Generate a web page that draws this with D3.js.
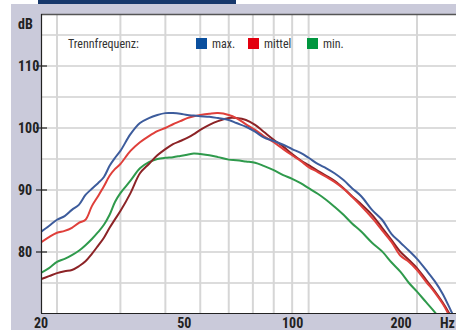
<!DOCTYPE html>
<html>
<head>
<meta charset="utf-8">
<script src="https://cdn.jsdelivr.net/npm/d3@7"></script>
<style>
  html, body { margin: 0; padding: 0; background: #fff; }
  svg { display: block; }
</style>
</head>
<body>
<div id="chart"></div>
<script>
// frequencies (Hz) shared by all curves
const freqs = [18, 19, 20, 21, 22, 23, 24, 25, 26, 27, 28, 29, 30, 32, 34, 36, 38, 40, 42, 44, 46, 48, 50,
  53, 56, 60, 63, 67, 71, 75, 80, 85, 90, 95, 100, 106, 112, 118, 125, 132, 140, 150, 160, 170, 180,
  190, 200, 212, 224, 236, 250, 260];

// dB values
const maxDb = [83.2, 84.2, 85.2, 85.8, 86.8, 87.6, 89.2, 90.2, 91.1, 92.1, 93.9, 95.2, 96.3, 99.0, 100.8,
  101.6, 102.1, 102.4, 102.4, 102.3, 102.1, 102.0, 101.9, 101.8, 101.6, 101.3, 100.8, 100.2, 99.4, 98.5,
  97.9, 97.3, 96.6, 96.0, 95.2, 94.2, 93.5, 92.7, 91.6, 90.3, 89.0, 86.8, 85.2, 82.9, 81.5, 80.2, 78.9,
  77.1, 75.3, 73.2, 70.2, 68.2];
const mittelDb = [81.5, 82.4, 83.1, 83.4, 83.9, 84.7, 85.2, 87.4, 89.0, 90.6, 92.3, 93.4, 94.2, 96.3, 97.7,
  98.7, 99.5, 100.0, 100.6, 101.1, 101.6, 101.9, 102.1, 102.3, 102.4, 102.1, 101.6, 100.6, 99.7, 98.7,
  97.7, 96.6, 95.6, 94.7, 93.7, 92.9, 92.1, 91.3, 90.2, 88.9, 87.4, 85.5, 83.5, 81.6, 79.4, 78.4, 77.1,
  75.2, 73.5, 71.6, 69.0, 67.5];
const darkDb = [75.6, 76.1, 76.6, 76.9, 77.1, 77.7, 78.5, 79.7, 81.0, 82.3, 83.9, 85.3, 86.6, 89.5, 92.7,
  94.2, 95.6, 96.6, 97.4, 97.9, 98.4, 99.0, 99.7, 100.5, 101.1, 101.6, 101.6, 101.3, 100.5, 99.4, 98.1,
  97.0, 95.8, 94.8, 94.0, 93.1, 92.3, 91.5, 90.3, 89.0, 87.7, 86.0, 83.9, 81.9, 80.0, 78.7, 77.4, 75.5,
  73.7, 71.8, 69.4, 67.8];
const minDb = [76.6, 77.4, 78.4, 78.9, 79.5, 80.2, 81.1, 82.1, 83.2, 84.4, 86.0, 88.1, 89.5, 91.5, 93.5,
  94.5, 95.0, 95.2, 95.3, 95.5, 95.7, 95.9, 95.8, 95.6, 95.3, 94.9, 94.8, 94.6, 94.4, 93.9, 93.2, 92.4,
  91.8, 91.1, 90.3, 89.4, 88.4, 87.3, 86.0, 84.6, 83.3, 81.5, 80.1, 78.3, 76.8, 75.0, 73.6, 71.9, 70.3,
  68.6, 66.5, 65.0];

const gridFreqs = [20, 30, 40, 50, 60, 70, 80, 90, 100, 200];
const xTickLabels = [20, 50, 100, 200];
const yTicks = [80, 90, 100, 110];
const yGrid = [75, 80, 85, 90, 95, 100, 105, 110, 115];

const legendItems = [
  { label: "max.", color: "#0a4f9e" },
  { label: "mittel", color: "#e3000f" },
  { label: "min.", color: "#00963f" }
];

const series = [
  { values: minDb, color: "#2f9a4c" },
  { values: darkDb, color: "#8c2326" },
  { values: mittelDb, color: "#df3f3a" },
  { values: maxDb, color: "#3d5c9c" }
];

const W = 456, H = 330;
const pLeft = 41, pRight = 456, pTop = 14, pBottom = 313;

const svg = d3.select("#chart").append("svg").attr("width", W).attr("height", H);

// frame
svg.append("rect").attr("x", 11).attr("y", 4).attr("width", W - 11).attr("height", H - 4).attr("fill", "#cacada");
svg.append("rect").attr("x", 38).attr("y", 0).attr("width", 198).attr("height", 4).attr("fill", "#17386b");
svg.append("rect").attr("x", pLeft).attr("y", pTop).attr("width", pRight - pLeft).attr("height", pBottom - pTop).attr("fill", "#fff");

const x = d3.scaleLog().domain([20, 200]).range([57, 417]);
const y = d3.scaleLinear().domain([80, 110]).range([252, 66]);

// grid
const grid = svg.append("g");
grid.selectAll(".hg").data(yGrid).join("line")
  .attr("x1", pLeft).attr("x2", pRight)
  .attr("y1", d => y(d)).attr("y2", d => y(d))
  .attr("stroke", "#dcdcdc").attr("stroke-width", 2);
grid.selectAll(".vg").data(gridFreqs).join("line")
  .attr("x1", d => x(d)).attr("x2", d => x(d))
  .attr("y1", pTop).attr("y2", pBottom)
  .attr("stroke", "#d6d6d6").attr("stroke-width", 2);

// curves
svg.append("clipPath").attr("id", "clip")
  .append("rect").attr("x", pLeft).attr("y", pTop).attr("width", pRight - pLeft).attr("height", pBottom - pTop);

const line = d3.line()
  .x((d, i) => x(freqs[i]))
  .y(d => y(d))
  .curve(d3.curveCatmullRom);

svg.append("g").attr("clip-path", "url(#clip)")
  .selectAll("path").data(series).join("path")
  .attr("d", d => line(d.values))
  .attr("fill", "none")
  .attr("stroke", d => d.color)
  .attr("stroke-width", 2)
  .attr("stroke-linejoin", "round");

// axes lines
svg.append("line").attr("x1", pLeft).attr("x2", pRight).attr("y1", pTop + 0.5).attr("y2", pTop + 0.5)
  .attr("stroke", "#555").attr("stroke-width", 1.5);
svg.append("line").attr("x1", pLeft + 0.5).attr("x2", pLeft + 0.5).attr("y1", pTop).attr("y2", pBottom)
  .attr("stroke", "#222").attr("stroke-width", 1.2);
svg.append("line").attr("x1", pLeft).attr("x2", pRight).attr("y1", pBottom + 0.5).attr("y2", pBottom + 0.5)
  .attr("stroke", "#222").attr("stroke-width", 1.2);

const font = "'Liberation Sans Narrow', 'Roboto Condensed', 'Arial Narrow', sans-serif";

// y ticks
const yt = svg.append("g");
yt.selectAll("line").data(yTicks).join("line")
  .attr("x1", 36).attr("x2", 47)
  .attr("y1", d => y(d)).attr("y2", d => y(d))
  .attr("stroke", "#222").attr("stroke-width", 1.2);
yt.selectAll("text").data(yTicks).join("text")
  .attr("x", 18).attr("y", d => y(d) + 5)
  .attr("font-family", font).attr("font-weight", "bold").attr("font-size", 14)
  .attr("fill", "#222").text(d => d);

svg.append("text").attr("x", 18).attr("y", 29)
  .attr("font-family", font).attr("font-weight", "bold").attr("font-size", 14)
  .attr("fill", "#222").text("dB");

// x labels (printed slightly left of their grid lines)
svg.append("g").selectAll("text").data(xTickLabels).join("text")
  .attr("x", d => x(d) - 16).attr("y", 328)
  .attr("text-anchor", "middle")
  .attr("font-family", font).attr("font-weight", "bold").attr("font-size", 14)
  .attr("fill", "#222").text(d => d);
svg.append("text").attr("x", 440).attr("y", 328)
  .attr("font-family", font).attr("font-weight", "bold").attr("font-size", 14)
  .attr("fill", "#222").text("Hz");

// legend
svg.append("text").attr("x", 68).attr("y", 48)
  .attr("font-family", font).attr("font-size", 12).attr("fill", "#333").text("Trennfrequenz:");
const legendX = [196, 248, 307];
const lg = svg.append("g").selectAll("g").data(legendItems).join("g")
  .attr("transform", (d, i) => `translate(${legendX[i]},38)`);
lg.append("rect").attr("width", 11).attr("height", 11).attr("fill", d => d.color);
lg.append("text").attr("x", 16).attr("y", 10)
  .attr("font-family", font).attr("font-size", 12).attr("fill", "#333").text(d => d.label);
</script>
</body>
</html>
